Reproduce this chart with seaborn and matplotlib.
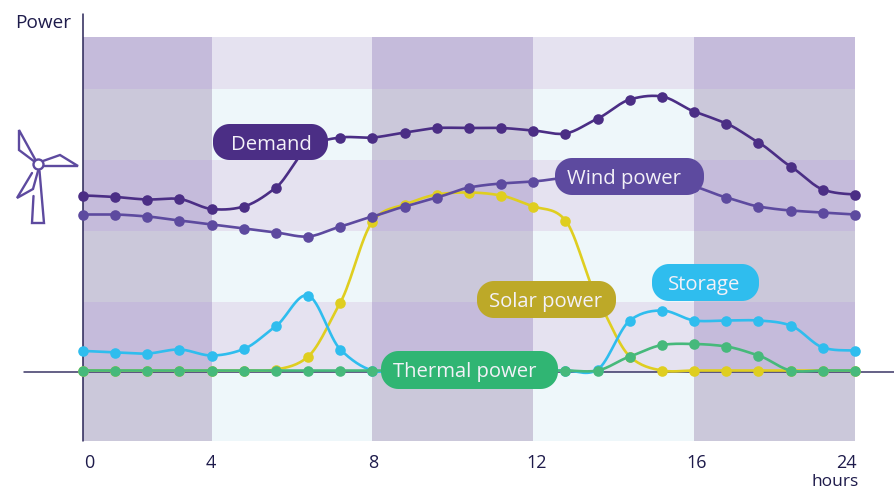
import numpy as np
import pandas as pd
import matplotlib
matplotlib.use("Agg")
import matplotlib.pyplot as plt
import matplotlib.transforms as mtransforms
from matplotlib.colors import ListedColormap
from matplotlib.patches import Polygon, Circle
import seaborn as sns

# ---------- data (arbitrary power units above the baseline) ----------
hours_index = list(range(25))
demand  = [176, 174.5, 172, 172.5, 162.5, 165, 184, 224, 234, 234, 239, 243.5, 243.5, 243.5, 241, 238, 253, 272, 275, 260, 248, 229, 205, 182, 177]
wind    = [157, 157, 155, 151, 147, 143, 139, 135, 145, 155, 165, 174, 184, 188, 190, 194, 199, 199, 193, 185, 174, 165, 161, 159, 157]
solar   = [1, 1, 1, 1, 1, 1, 2, 15, 69, 150, 167, 177, 179, 176, 165, 151, 72, 15, 1, 1, 1, 1, 1, 1, 1]
storage = [20.5, 19, 18, 22, 16, 22.5, 45.5, 76, 22, 1, 1, 1, 1, 1, 1, 1, 2, 51, 61, 51, 51, 51, 46, 24, 21]
thermal = [1, 1, 1, 1, 1, 1, 1, 1, 1, 1, 1, 1, 1, 1, 1, 1, 1, 15, 26.5, 27.5, 25, 16, 1, 1, 1]

tick_hours  = [0, 4, 9, 14, 19, 24]
tick_labels = ["0", "4", "8", "12", "16", "24"]
row_edges   = [-69.5, 0, 70, 141, 212, 283, 334.5]

series_names  = ["Solar power", "Storage", "Wind power", "Demand", "Thermal power"]
series_values = [solar, storage, wind, demand, thermal]
series_colors = ["#DFCE20", "#2FBDEE", "#5D4A9F", "#4B2E85", "#46B97B"]


def smooth(x, y, per=16, k=0.42):
    """Cardinal spline through the read values, used only to draw the curved segments."""
    x, y = np.asarray(x, float), np.asarray(y, float)
    ox, oy = [], []
    for i in range(len(x) - 1):
        y0 = y[max(i - 1, 0)]
        y3 = y[min(i + 2, len(y) - 1)]
        m1 = k * (y[i + 1] - y0)
        m2 = k * (y3 - y[i])
        t = np.linspace(0, 1, per, endpoint=False)
        h00 = 2*t**3 - 3*t**2 + 1
        h10 = t**3 - 2*t**2 + t
        h01 = -2*t**3 + 3*t**2
        h11 = t**3 - t**2
        ox.extend(x[i] + t * (x[i + 1] - x[i]))
        oy.extend(h00*y[i] + h10*m1 + h01*y[i + 1] + h11*m2)
    ox.append(x[-1]); oy.append(y[-1])
    return np.array(ox), np.array(oy)


def pill_outline(x0, x1, y0, y1, r):
    corners = [(x1 - r, y0 + r, -90), (x1 - r, y1 - r, 0), (x0 + r, y1 - r, 90), (x0 + r, y0 + r, 180)]
    pts = []
    for cx, cy, a in corners:
        for ang in np.radians(np.linspace(a, a + 90, 16)):
            pts.append((cx + r * np.cos(ang), cy + r * np.sin(ang)))
    return pts


sns.set_theme(style="white")
plt.rcParams["font.family"] = ["Open Sans", "DejaVu Sans"]
INK = "#1E1B4B"

W, H = 895, 489
fig = plt.figure(figsize=(W / 100, H / 100), dpi=100, facecolor="white")
ax = fig.add_axes([83 / W, 1 - 442 / H, (855 - 83) / W, (442 - 38) / H])
ax.set_xlim(0, 24)
ax.set_ylim(-69.5, 334.5)
px = mtransforms.Affine2D().scale(1 / W, -1 / H).translate(0, 1) + fig.transFigure

# ---------- checkered background ----------
dark_purple, dark_grey = "#C5BBDB", "#CBC8DA"
light_purple, light_grey = "#E5E2F0", "#EEF7FA"
cmap = ListedColormap([dark_grey, dark_purple, light_grey, light_purple])
cells = np.array([[(0 if c % 2 == 0 else 2) + (r % 2) for c in range(len(tick_hours) - 1)]
                  for r in range(len(row_edges) - 1)])
ax.pcolormesh(tick_hours, row_edges, cells, cmap=cmap, vmin=-0.5, vmax=3.5,
              shading="flat", linewidth=0, antialiased=False, zorder=0)

# ---------- axis lines ----------
ax.plot([0, 0], [-69.5, 358], color="#2A2557", lw=1.1, clip_on=False, zorder=2)
ax.plot([-1.83, 25.3], [0, 0], color="#3A3566", lw=1.1, clip_on=False, zorder=2)

# ---------- series ----------
for i, (name, vals, col) in enumerate(zip(series_names, series_values, series_colors)):
    xs, ys = smooth(hours_index, vals)
    sns.lineplot(data=pd.DataFrame({"h": xs, "p": ys}), x="h", y="p", color=col, lw=1.9,
                 ax=ax, zorder=3 + i, clip_on=False, legend=False, errorbar=None, estimator=None)
    sns.scatterplot(data=pd.DataFrame({"h": hours_index, "p": vals}), x="h", y="p", color=col,
                    s=58, linewidth=0, ax=ax, zorder=3 + i, clip_on=False, legend=False)

# ---------- pill labels ----------
pills = [
    ("Demand", 213, 328, 125, 161, "#4B2E85", 271),
    ("Wind power", 555, 704, 159, 196, "#5D4A9F", 624),
    ("Solar power", 477, 616, 282, 319, "#BDA928", 546),
    ("Storage", 652, 759, 265, 302, "#2FBDEE", 704),
    ("Thermal power", 381, 558, 352, 390, "#30B573", 465),
]
for text, x0, x1, y0, y1, col, tx in pills:
    r = (y1 - y0) * 0.46
    ax.add_patch(Polygon(pill_outline(x0, x1, y0, y1, r), closed=True, transform=px, facecolor=col,
                         edgecolor="none", zorder=20, clip_on=False))
    ax.text(tx, (y0 + y1) / 2 + 1.5, text, transform=px, color="#F3F1F8", fontsize=14.6,
            ha="center", va="center", zorder=21, clip_on=False)

# ---------- wind turbine icon ----------
icon = "#5D4A9F"
blades = [
    [(35, 163), (19, 151), (19, 131), (35.5, 161)],
    [(43, 162), (60, 156), (78, 167), (44, 167)],
    [(38, 172), (33, 190), (17, 199), (32, 174)],
    [(39.5, 172), (44, 224), (32, 224), (33.5, 197)],
]
for b in blades:
    xs, ys = zip(*b)
    ax.plot(xs, ys, transform=px, color=icon, lw=1.7, clip_on=False, zorder=5, solid_joinstyle="miter")
ax.add_patch(Circle((38.5, 165.5), 5, transform=px, facecolor="white", edgecolor=icon, lw=1.7,
                    clip_on=False, zorder=6))

# ---------- ticks and text ----------
ax.set_xticks(tick_hours)
ax.set_xticklabels(tick_labels, fontsize=13, color=INK)
ax.set_yticks([])
ax.set_xlabel("")
ax.set_ylabel("")
ax.tick_params(axis="x", length=0, pad=9)
for lab, dx in zip(ax.get_xticklabels(), [6, -1, 1, 3, 2, -9]):
    lab.set_transform(lab.get_transform() + mtransforms.ScaledTranslation(dx / 100, 0, fig.dpi_scale_trans))
for s in ax.spines.values():
    s.set_visible(False)

ax.text(15, 23, "Power", transform=px, fontsize=13.7, color=INK, ha="left", va="center", clip_on=False)
ax.text(835, 481.5, "hours", transform=px, fontsize=12.5, color=INK, ha="center", va="center", clip_on=False)

fig.savefig("out.png", dpi=100, facecolor="white")
